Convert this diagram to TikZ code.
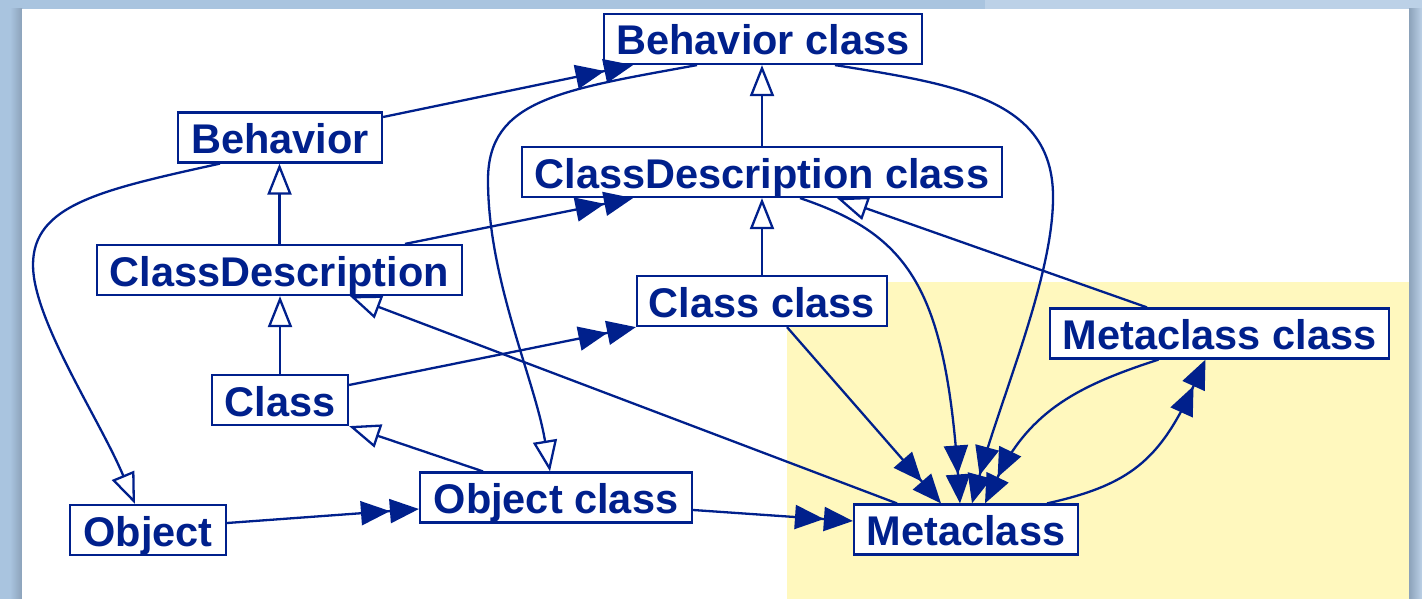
\documentclass[tikz,border=0pt]{standalone}
\usepackage{fontspec}
\setmainfont{Liberation Sans}
\usetikzlibrary{arrows.meta}
\definecolor{ink}{RGB}{0,32,140}
\definecolor{note}{RGB}{255,248,190}
\definecolor{framea}{RGB}{169,196,223}
\definecolor{frameb}{RGB}{188,209,231}
\definecolor{edgeshade}{RGB}{140,162,186}
\begin{document}
\begin{tikzpicture}[x=1pt,y=-1pt,
  cls/.style={draw=ink, line width=2.2pt, fill=white, text=ink,
    font=\fontsize{41.5}{48}\selectfont\bfseries, inner sep=0pt,
    minimum height=50pt, text height=32pt, text depth=0pt},
  link/.style={draw=ink, line width=2.3pt},
  isa/.style={link, -{Triangle[length=31pt,width=24pt,fill=white]}},
  inst/.style={link, -{Triangle[length=29pt,width=24pt] Triangle[length=29pt,width=24pt]}},
]
% slide frame and page
\fill[framea] (0,0) rectangle (1422,599);
\fill[frameb] (985,0) rectangle (1422,9);
\shade[left color=framea, right color=edgeshade] (10,9) rectangle (22,599);
\shade[left color=edgeshade, right color=frameb] (1409,9) rectangle (1422,599);
\fill[white] (22,9) rectangle (1409,599);
\fill[note] (787,282) rectangle (1409,599);

% classes
\node[cls, minimum width=318pt] (bc)  at (763,39)    {Behavior class};
\node[cls, minimum width=204pt] (b)   at (280,137.5) {Behavior};
\node[cls, minimum width=480pt] (cdc) at (762,172)   {ClassDescription class};
\node[cls, minimum width=365pt] (cd)  at (279.5,270) {ClassDescription};
\node[cls, minimum width=250pt] (cc)  at (762,301)   {Class class};
\node[cls, minimum width=339pt] (mcc) at (1219.5,333.5) {Metaclass class};
\node[cls, minimum width=136pt] (cl)  at (280,400)   {Class};
\node[cls, minimum width=272pt] (oc)  at (556,497.5) {Object class};
\node[cls, minimum width=156pt] (o)   at (148,530)   {Object};
\node[cls, minimum width=224pt] (mc)  at (966,529.5) {Metaclass};

% superclass links
\draw[isa] (cdc.north) -- (cdc.north |- bc.south);
\draw[isa] (cc.north) -- (cc.north |- cdc.south);
\draw[isa] (cd.north) -- (cd.north |- b.south);
\draw[isa] (cl.north) -- (cl.north |- cd.south);
\draw[isa] ([xshift=-73pt]oc.north) -- (cl.south east);
\draw[isa] ([xshift=-69pt]mc.north) -- ([xshift=70.5pt]cd.south);
\draw[isa] ([xshift=-72.5pt]mcc.north) -- ([xshift=75pt]cdc.south);
\draw[isa] ([xshift=-66pt]bc.south) .. controls (560,90) and (488,100) .. (488,180)
  .. controls (488,280) and (535,380) .. ([xshift=-6pt]oc.north);
\draw[isa] ([xshift=-60pt]b.south) .. controls (100,190) and (33,205) .. (33,265)
  .. controls (33,320) and (100,420) .. ([xshift=-13pt]o.north);

% instance links
\draw[inst] ([yshift=20.5pt]b.east) -- ([xshift=-130pt]bc.south);
\draw[inst] ([xshift=125.5pt]cd.north) -- ([xshift=-129pt]cdc.south);
\draw[inst] ([yshift=15pt]cl.east) -- (cc.south west);
\draw[inst] ([yshift=7pt]o.east) -- ([yshift=-11.5pt]oc.west);
\draw[inst] ([yshift=-12.5pt]oc.east) -- ([yshift=8.5pt]mc.west);
\draw[inst] ([xshift=25pt]cc.south) -- ([xshift=-25pt]mc.north);
\draw[inst] ([xshift=38pt]cdc.south) .. controls (910,235) and (945,290) .. ([xshift=-6pt]mc.north);
\draw[inst] ([xshift=72pt]bc.south) .. controls (960,85) and (1055,100) .. (1053,200)
  .. controls (1052,280) and (1000,400) .. ([xshift=6pt]mc.north);
\draw[inst] ([xshift=-61pt]mcc.south) .. controls (1080,385) and (1030,410) .. ([xshift=19pt]mc.north);
\draw[inst] ([xshift=81pt]mc.north) .. controls (1130,485) and (1160,460) .. ([xshift=-14pt]mcc.south);
\end{tikzpicture}
\end{document}
